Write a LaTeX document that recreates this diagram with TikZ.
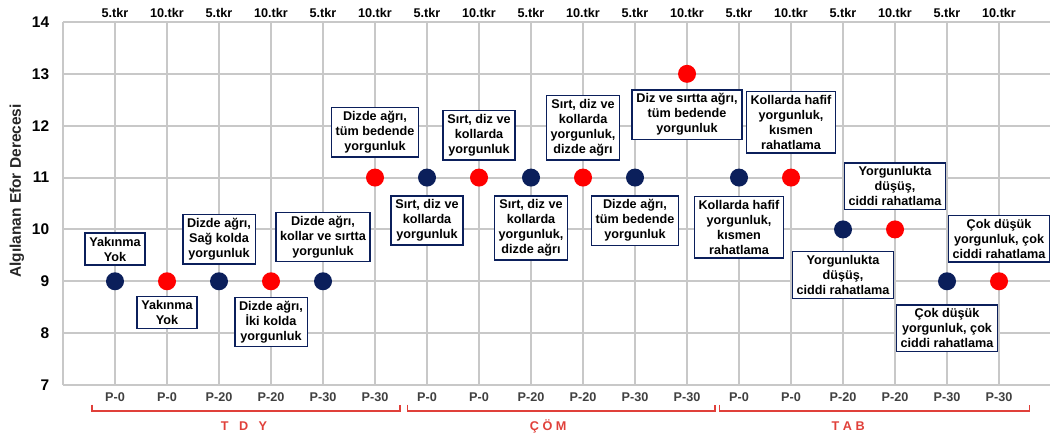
\documentclass[tikz,border=0pt]{standalone}
\usepackage{fontspec}
\setmainfont{Liberation Sans}
\usetikzlibrary{positioning}

\definecolor{navy}{HTML}{0B1F5B}
\definecolor{dotred}{HTML}{FF0000}
\definecolor{gridgray}{HTML}{C8C8C8}
\definecolor{groupred}{HTML}{E0403A}

\begin{document}
\begin{tikzpicture}[x=1.3cm, y=1.2965cm,
  dot/.style={circle, minimum size=12.8pt, inner sep=0pt},
  navydot/.style={dot, fill=navy},
  reddot/.style={dot, fill=dotred},
  note/.style={draw=navy, line width=1pt, fill=white, align=center,
    font=\bfseries\fontsize{9}{10.7}\selectfont, inner xsep=3pt, inner ysep=2.6pt},
  toplabel/.style={font=\bfseries\fontsize{9}{10}\selectfont},
  botlabel/.style={text=black!75, font=\bfseries\fontsize{9}{10}\selectfont},
  ylabel/.style={anchor=east, font=\bfseries\fontsize{11}{12}\selectfont},
  grouplabel/.style={text=groupred, font=\bfseries\fontsize{9}{10}\selectfont}]
  \useasboundingbox (-1.2115,6.075) rectangle (18.98,14.424);
  % Draw grid
  \draw [gridgray, line width=1.4pt, xstep=1.3cm, ystep=1.2965cm] (0,7) grid (19,14);
  % Add y values
  \node [ylabel] (y7) at (-0.17,7) {7};
  \node [ylabel] (y8) at (-0.17,8) {8};
  \node [ylabel] (y9) at (-0.17,9) {9};
  \node [ylabel] (y10) at (-0.17,10) {10};
  \node [ylabel] (y11) at (-0.17,11) {11};
  \node [ylabel] (y12) at (-0.17,12) {12};
  \node [ylabel] (y13) at (-0.17,13) {13};
  \node [ylabel] (y14) at (-0.17,14) {14};
  \node [rotate=90, text=black!85, font=\bfseries\fontsize{11}{12}\selectfont] (ytitle) at (-0.885,10.74) {Algılanan Efor Derecesi};
  % Add top labels
  \node [toplabel] (t1) at (1,14.17) {5.tkr};
  \node [toplabel] (t2) at (2,14.17) {10.tkr};
  \node [toplabel] (t3) at (3,14.17) {5.tkr};
  \node [toplabel] (t4) at (4,14.17) {10.tkr};
  \node [toplabel] (t5) at (5,14.17) {5.tkr};
  \node [toplabel] (t6) at (6,14.17) {10.tkr};
  \node [toplabel] (t7) at (7,14.17) {5.tkr};
  \node [toplabel] (t8) at (8,14.17) {10.tkr};
  \node [toplabel] (t9) at (9,14.17) {5.tkr};
  \node [toplabel] (t10) at (10,14.17) {10.tkr};
  \node [toplabel] (t11) at (11,14.17) {5.tkr};
  \node [toplabel] (t12) at (12,14.17) {10.tkr};
  \node [toplabel] (t13) at (13,14.17) {5.tkr};
  \node [toplabel] (t14) at (14,14.17) {10.tkr};
  \node [toplabel] (t15) at (15,14.17) {5.tkr};
  \node [toplabel] (t16) at (16,14.17) {10.tkr};
  \node [toplabel] (t17) at (17,14.17) {5.tkr};
  \node [toplabel] (t18) at (18,14.17) {10.tkr};
  % Add bottom labels
  \node [botlabel] (b1) at (1,6.77) {P-0};
  \node [botlabel] (b2) at (2,6.77) {P-0};
  \node [botlabel] (b3) at (3,6.77) {P-20};
  \node [botlabel] (b4) at (4,6.77) {P-20};
  \node [botlabel] (b5) at (5,6.77) {P-30};
  \node [botlabel] (b6) at (6,6.77) {P-30};
  \node [botlabel] (b7) at (7,6.77) {P-0};
  \node [botlabel] (b8) at (8,6.77) {P-0};
  \node [botlabel] (b9) at (9,6.77) {P-20};
  \node [botlabel] (b10) at (10,6.77) {P-20};
  \node [botlabel] (b11) at (11,6.77) {P-30};
  \node [botlabel] (b12) at (12,6.77) {P-30};
  \node [botlabel] (b13) at (13,6.77) {P-0};
  \node [botlabel] (b14) at (14,6.77) {P-0};
  \node [botlabel] (b15) at (15,6.77) {P-20};
  \node [botlabel] (b16) at (16,6.77) {P-20};
  \node [botlabel] (b17) at (17,6.77) {P-30};
  \node [botlabel] (b18) at (18,6.77) {P-30};
  % Draw group brackets
  \draw [groupred, line width=1pt] (0.56,6.62) -- (0.56,6.5) -- (6.48,6.5) -- (6.48,6.62);
  \draw [groupred, line width=1pt] (6.62,6.62) -- (6.62,6.5) -- (12.54,6.5) -- (12.54,6.62);
  \draw [groupred, line width=1pt] (12.63,6.62) -- (12.63,6.5) -- (18.58,6.5) -- (18.58,6.62);
  \node [grouplabel] (tdy) at (3.48,6.21) {T\ \ \ D\ \ \ Y};
  \node [grouplabel] (com) at (9.33,6.21) {Ç\ Ö\ M};
  \node [grouplabel] (tab) at (15.1,6.21) {T A B};
  % Draw points
  \node [navydot] (d1) at (1,9) {};
  \node [reddot] (d2) at (2,9) {};
  \node [navydot] (d3) at (3,9) {};
  \node [reddot] (d4) at (4,9) {};
  \node [navydot] (d5) at (5,9) {};
  \node [reddot] (d6) at (6,11) {};
  \node [navydot] (d7) at (7,11) {};
  \node [reddot] (d8) at (8,11) {};
  \node [navydot] (d9) at (9,11) {};
  \node [reddot] (d10) at (10,11) {};
  \node [navydot] (d11) at (11,11) {};
  \node [reddot] (d12) at (12,13) {};
  \node [navydot] (d13) at (13,11) {};
  \node [reddot] (d14) at (14,11) {};
  \node [navydot] (d15) at (15,10) {};
  \node [reddot] (d16) at (16,10) {};
  \node [navydot] (d17) at (17,9) {};
  \node [reddot] (d18) at (18,9) {};
  % Add notes
  \node [note, above=4.6pt of d1] (n1) {Yakınma\\Yok};
  \node [note, below=3.9pt of d2] (n2) {Yakınma\\Yok};
  \node [note, above=5.3pt of d3] (n3) {Dizde ağrı,\\Sağ kolda\\yorgunluk};
  \node [note, below=4.3pt of d4] (n4) {Dizde ağrı,\\İki kolda\\yorgunluk};
  \node [note, above=6.8pt of d5] (n5) {Dizde ağrı,\\kollar ve sırtta\\yorgunluk};
  \node [note, above=7.6pt of d6] (n6) {Dizde ağrı,\\tüm bedende\\yorgunluk};
  \node [note, below=5.9pt of d7] (n7) {Sırt, diz ve\\kollarda\\yorgunluk};
  \node [note, above=5.5pt of d8] (n8) {Sırt, diz ve\\kollarda\\yorgunluk};
  \node [note, below=5.9pt of d9] (n9) {Sırt, diz ve\\kollarda\\yorgunluk,\\dizde ağrı};
  \node [note, above=5.5pt of d10] (n10) {Sırt, diz ve\\kollarda\\yorgunluk,\\dizde ağrı};
  \node [note, below=5.9pt of d11] (n11) {Dizde ağrı,\\tüm bedende\\yorgunluk};
  \node [note, below=4.3pt of d12] (n12) {Diz ve sırtta ağrı,\\tüm bedende\\yorgunluk};
  \node [note, below=6.3pt of d13] (n13) {Kollarda hafif\\yorgunluk,\\kısmen\\rahatlama};
  \node [note, above=10.4pt of d14] (n14) {Kollarda hafif\\yorgunluk,\\kısmen\\rahatlama};
  \node [note, below=8.7pt of d15] (n15) {Yorgunlukta\\düşüş,\\ciddi rahatlama};
  \node [note, above=6.9pt of d16] (n16) {Yorgunlukta\\düşüş,\\ciddi rahatlama};
  \node [note, below=9.8pt of d17] (n17) {Çok düşük\\yorgunluk, çok\\ciddi rahatlama};
  \node [note, above=6.5pt of d18] (n18) {Çok düşük\\yorgunluk, çok\\ciddi rahatlama};
\end{tikzpicture}
\end{document}
